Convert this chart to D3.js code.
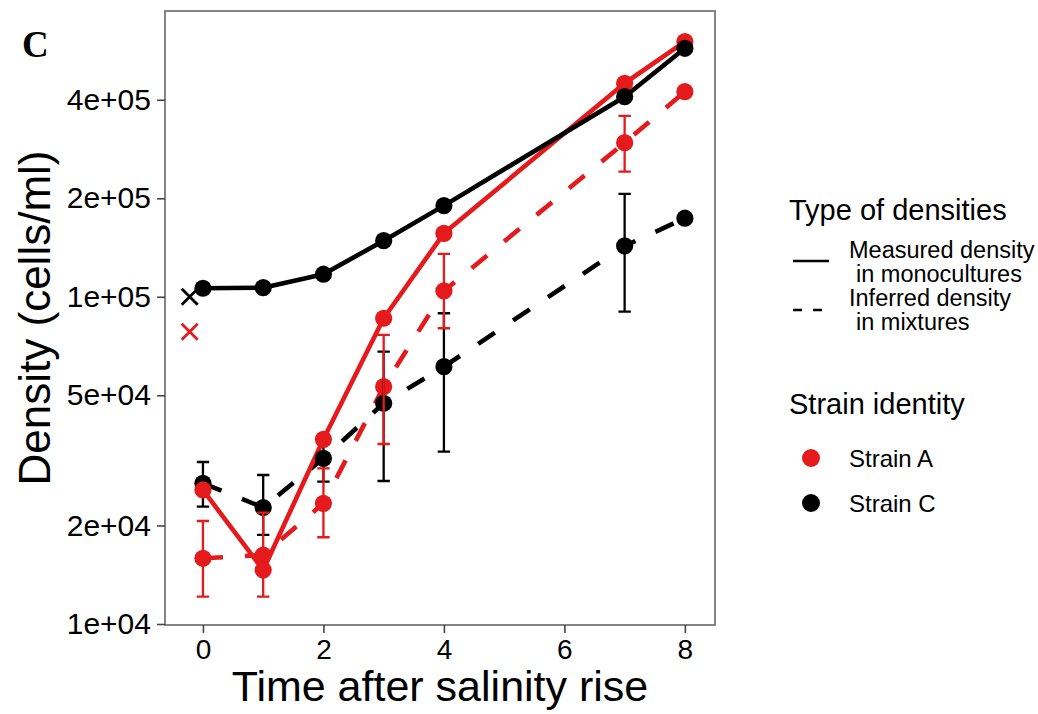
<!DOCTYPE html>
<html>
<head>
<meta charset="utf-8">
<script src="https://cdn.jsdelivr.net/npm/d3@7/dist/d3.min.js"></script>
<style>
  html, body { margin: 0; padding: 0; background: #fff; }
  svg text { font-family: "Liberation Sans", Arial, sans-serif; fill: #000; }
</style>
</head>
<body>
<script>
// Sampling days after the salinity rise
const times = [0, 1, 2, 3, 4, 7, 8];

// Measured densities in monocultures (cells/ml)
const monoA = [25680, 14620, 36680, 85960, 156300, 449300, 602200];
const monoC = [106200, 106600, 117200, 148400, 189900, 408800, 574600];

// Inferred densities in mixtures (cells/ml) with error bar limits
const mixA     = [15880, 16250, 23380, 53110, 104200, 295800, 423500];
const mixALow  = [12120, 12120, 18410, 35490, 80120, 241200, null];
const mixAHigh = [20640, 21890, 29910, 76430, 135200, 356900, null];

const mixC     = [26920, 22700, 32090, 47270, 61140, 143000, 173800];
const mixCLow  = [22830, 18710, 27220, 27350, 33620, 90060, null];
const mixCHigh = [31270, 28530, 36960, 67960, 89040, 206200, null];

// Initial densities before the rise (crosses)
const initTime = -0.22;
const initA = 78200;
const initC = 100000;

// Axis ticks
const xTicks = [0, 2, 4, 6, 8];
const yTicks = [1e4, 2e4, 5e4, 1e5, 2e5, 4e5];
const yTickLabels = ["1e+04", "2e+04", "5e+04", "1e+05", "2e+05", "4e+05"];

const RED = "#E41A1C";
const BLACK = "#000000";

const W = 1038, H = 714;
const panel = { left: 165, right: 715, top: 11, bottom: 625 };

const svg = d3.select("body").append("svg")
  .attr("width", W).attr("height", H);

const x = d3.scaleLinear().domain([-0.63, 8.5]).range([panel.left, panel.right]);
const y = d3.scaleLog().domain([9930, 747000]).range([panel.bottom, panel.top]);

// Panel background
svg.append("rect")
  .attr("x", panel.left).attr("y", panel.top)
  .attr("width", panel.right - panel.left).attr("height", panel.bottom - panel.top)
  .attr("fill", "#fff");

function rows(vals, lo, hi) {
  return times.map((t, i) => ({ t, v: vals[i], lo: lo ? lo[i] : null, hi: hi ? hi[i] : null }));
}

const series = {
  mixA: rows(mixA, mixALow, mixAHigh),
  mixC: rows(mixC, mixCLow, mixCHigh),
  monoA: rows(monoA),
  monoC: rows(monoC)
};

const line = d3.line().x(d => x(d.t)).y(d => y(d.v));
const plot = svg.append("g");

// Lines
const lineSpecs = [
  { key: "mixA", color: RED, dash: "20,22" },
  { key: "mixC", color: BLACK, dash: "20,22" },
  { key: "monoA", color: RED, dash: null },
  { key: "monoC", color: BLACK, dash: null }
];
lineSpecs.forEach(s => {
  plot.append("path")
    .datum(series[s.key])
    .attr("d", line)
    .attr("fill", "none")
    .attr("stroke", s.color)
    .attr("stroke-width", 4.6)
    .attr("stroke-linejoin", "round")
    .attr("stroke-dasharray", s.dash);
});

function drawPoints(data, color) {
  plot.append("g").selectAll("circle")
    .data(data).join("circle")
    .attr("cx", d => x(d.t)).attr("cy", d => y(d.v))
    .attr("r", 8.6).attr("fill", color);
}

function drawErrors(data, color) {
  const g = plot.append("g")
    .attr("stroke", color).attr("stroke-width", 2.3).attr("fill", "none");
  const d2 = data.filter(d => d.lo != null && d.hi != null);
  g.selectAll("path").data(d2).join("path")
    .attr("d", d => {
      const cx = x(d.t), y1 = y(d.hi), y2 = y(d.lo), w = 6.2;
      return `M${cx - w},${y1}H${cx + w}M${cx},${y1}V${y2}M${cx - w},${y2}H${cx + w}`;
    });
}

// Points and error bars
drawPoints(series.mixA, RED);
drawErrors(series.mixC, BLACK);
drawPoints(series.mixC, BLACK);
drawErrors(series.mixA, RED);
drawPoints(series.monoA, RED);
drawPoints(series.monoC, BLACK);

// Initial density crosses
[{ v: initC, c: BLACK }, { v: initA, c: RED }].forEach(d => {
  const cx = x(initTime), cy = y(d.v), s = 8;
  plot.append("path")
    .attr("d", `M${cx - s},${cy - s}L${cx + s},${cy + s}M${cx - s},${cy + s}L${cx + s},${cy - s}`)
    .attr("stroke", d.c).attr("stroke-width", 2.8).attr("fill", "none");
});

// Panel border
svg.append("rect")
  .attr("x", panel.left).attr("y", panel.top)
  .attr("width", panel.right - panel.left).attr("height", panel.bottom - panel.top)
  .attr("fill", "none").attr("stroke", "#666").attr("stroke-width", 1.6);

// Axes
const yAxis = svg.append("g")
  .attr("transform", `translate(${panel.left},0)`)
  .call(d3.axisLeft(y).tickValues(yTicks).tickFormat((d, i) => yTickLabels[i]).tickSize(8).tickPadding(6));
yAxis.select(".domain").remove();
yAxis.selectAll(".tick line").attr("stroke", "#444").attr("stroke-width", 1.6);
yAxis.selectAll(".tick text")
  .attr("font-size", 30).attr("fill", "#000")
  .attr("font-family", "Liberation Sans, Arial, sans-serif");

const xAxis = svg.append("g")
  .attr("transform", `translate(0,${panel.bottom})`)
  .call(d3.axisBottom(x).tickValues(xTicks).tickFormat(d3.format("d")).tickSize(8).tickPadding(6));
xAxis.select(".domain").remove();
xAxis.selectAll(".tick line").attr("stroke", "#444").attr("stroke-width", 1.6);
xAxis.selectAll(".tick text")
  .attr("font-size", 28).attr("fill", "#000")
  .attr("font-family", "Liberation Sans, Arial, sans-serif");

// Axis titles
svg.append("text")
  .attr("x", (panel.left + panel.right) / 2).attr("y", 701)
  .attr("text-anchor", "middle").attr("font-size", 43)
  .text("Time after salinity rise");

svg.append("text")
  .attr("transform", `translate(50,${(panel.top + panel.bottom) / 2}) rotate(-90)`)
  .attr("text-anchor", "middle").attr("font-size", 44)
  .text("Density (cells/ml)");

// Panel tag
svg.append("text")
  .attr("x", 22).attr("y", 57)
  .attr("font-family", "Liberation Serif, Times New Roman, serif")
  .style("font-family", "'Liberation Serif', 'Times New Roman', serif")
  .attr("font-weight", "bold").attr("font-size", 37)
  .text("C");

// Legend: line types
const leg = svg.append("g");
leg.append("text").attr("x", 789).attr("y", 220).attr("font-size", 29).text("Type of densities");
leg.append("line").attr("x1", 793).attr("x2", 829).attr("y1", 261).attr("y2", 261)
  .attr("stroke", BLACK).attr("stroke-width", 2.6);
leg.append("line").attr("x1", 793).attr("x2", 829).attr("y1", 310).attr("y2", 310)
  .attr("stroke", BLACK).attr("stroke-width", 2.6).attr("stroke-dasharray", "9,11");
const typeLabels = [
  { t: "Measured density", x: 849, y: 258 },
  { t: "in monocultures", x: 856, y: 282 },
  { t: "Inferred density", x: 849, y: 306 },
  { t: "in mixtures", x: 856, y: 330 }
];
typeLabels.forEach(d => leg.append("text").attr("x", d.x).attr("y", d.y).attr("font-size", 23.5).text(d.t));

// Legend: strains
leg.append("text").attr("x", 789).attr("y", 414).attr("font-size", 29).text("Strain identity");
const strainKeys = [
  { t: "Strain A", c: RED, cy: 458 },
  { t: "Strain C", c: BLACK, cy: 503 }
];
strainKeys.forEach(d => {
  leg.append("circle").attr("cx", 811).attr("cy", d.cy).attr("r", 9).attr("fill", d.c);
  leg.append("text").attr("x", 849).attr("y", d.cy + 9).attr("font-size", 24).text(d.t);
});
</script>
</body>
</html>
